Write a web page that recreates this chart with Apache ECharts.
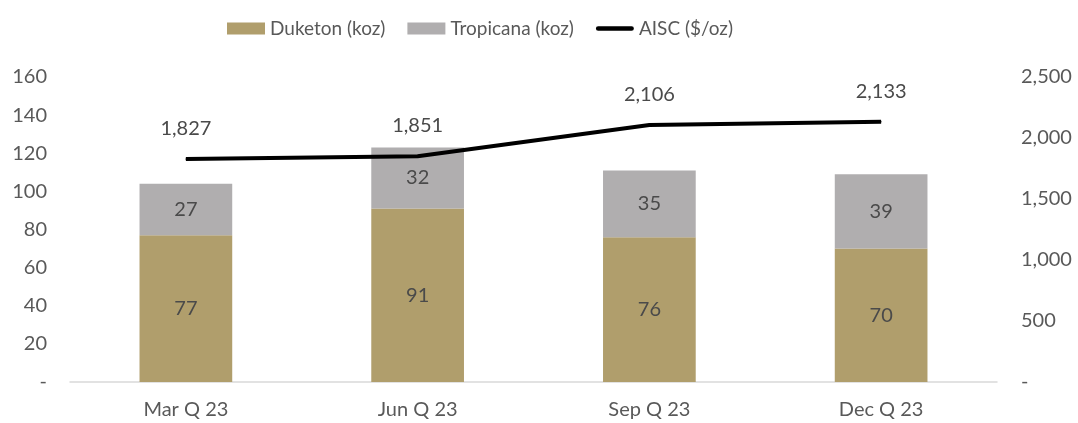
<!DOCTYPE html>
<html><head><meta charset="utf-8">
<script src="https://cdn.jsdelivr.net/npm/echarts@6/dist/echarts.min.js"></script>
<style>html,body{margin:0;padding:0;background:#fff}#c{width:1078px;height:423px}</style>
</head><body><div id="c"></div>
<script>
const categories = ['Mar Q 23', 'Jun Q 23', 'Sep Q 23', 'Dec Q 23'];
const duketon = [77, 91, 76, 70];
const tropicana = [27, 32, 35, 39];
const aisc = [1827, 1851, 2106, 2133];

const FONT = 'Lato';
const TXT = '#595959';
const LBL = '#4a4a4a';
const fmt = v => v === 0 ? '-' : v.toLocaleString('en-US');

const chart = echarts.init(document.getElementById('c'));
chart.setOption({
  animation: false,
  textStyle: { fontFamily: FONT },
  legend: {
    top: 14, left: 222,
    itemWidth: 38, itemHeight: 12, itemGap: 22,
    textStyle: { fontFamily: FONT, fontSize: 19, color: TXT },
    data: [
      { name: 'Duketon (koz)', icon: 'rect' },
      { name: 'Tropicana (koz)', icon: 'rect' },
      { name: 'AISC ($/oz)', icon: 'path://M2,0 L38,0 A2.5,2.5 0 0 1 38,5 L2,5 A2.5,2.5 0 0 1 2,0 Z' }
    ]
  },
  grid: { left: 70, right: 81, top: 77, bottom: 41 },
  xAxis: {
    type: 'category', data: categories,
    axisLine: { lineStyle: { color: '#d9d9d9', width: 1.5 } },
    axisTick: { show: false },
    axisLabel: { color: TXT, fontSize: 20, fontFamily: FONT, margin: 18 }
  },
  yAxis: [
    { type: 'value', min: 0, max: 160, interval: 20,
      splitLine: { show: false }, axisLine: { show: false }, axisTick: { show: false },
      axisLabel: { color: TXT, fontSize: 20, fontFamily: FONT, margin: 23, formatter: fmt } },
    { type: 'value', min: 0, max: 2500, interval: 500, position: 'right',
      splitLine: { show: false }, axisLine: { show: false }, axisTick: { show: false },
      axisLabel: { color: TXT, fontSize: 20, fontFamily: FONT, margin: 24, formatter: fmt } }
  ],
  series: [
    { name: 'Duketon (koz)', type: 'bar', stack: 'p', data: duketon, barWidth: '40%',
      itemStyle: { color: '#b09e6c' },
      label: { show: true, position: 'inside', color: LBL, fontSize: 20, fontFamily: FONT } },
    { name: 'Tropicana (koz)', type: 'bar', stack: 'p', data: tropicana, barWidth: '40%',
      itemStyle: { color: '#b0aeaf' },
      label: { show: true, position: 'inside', color: LBL, fontSize: 20, fontFamily: FONT } },
    { name: 'AISC ($/oz)', type: 'line', yAxisIndex: 1, data: aisc,
      symbol: 'circle', symbolSize: 1, showSymbol: true,
      lineStyle: { color: '#000', width: 4 }, itemStyle: { color: '#000' },
      label: { show: true, position: 'top', distance: 20, color: LBL, fontSize: 20, fontFamily: FONT,
        formatter: p => p.value.toLocaleString('en-US') } }
  ]
});
</script></body></html>
